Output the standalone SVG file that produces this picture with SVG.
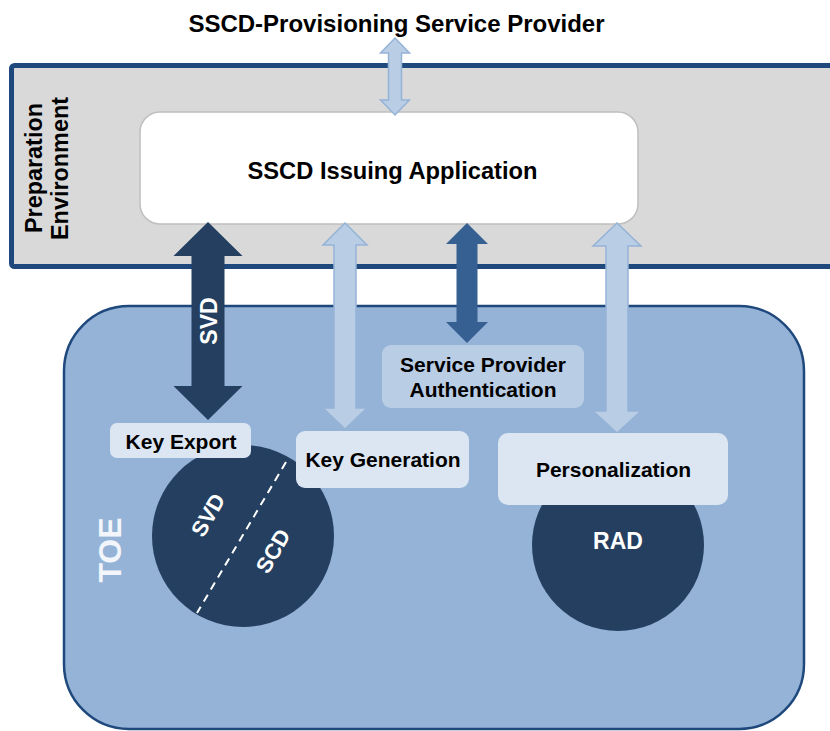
<svg xmlns="http://www.w3.org/2000/svg" width="830" height="731" viewBox="0 0 830 731">
<style>
  text { font-family: "Liberation Sans", Arial, sans-serif; font-weight: bold; }
  .blk { fill: #000000; }
  .wht { fill: #FFFFFF; }
  .lbl { font-size: 21px; text-anchor: middle; }
  .lightbox { fill: #DCE6F2; }
  .midbox { fill: #B9CDE5; }
  .dark { fill: #243F60; }
  .lightarrow { fill: #B9CDE5; stroke: #95B3D7; stroke-width: 1.5; }
  .midarrow { fill: #366092; }
</style>
<rect width="830" height="731" fill="#FFFFFF"/>

<g id="preparation-environment">
  <rect x="11.5" y="65.5" width="830" height="201" rx="3" fill="#D9D9D9" stroke="#1F497D" stroke-width="5"/>
  <text class="blk" font-size="23.4" text-anchor="middle" transform="translate(41.5,168) rotate(-90)">Preparation</text>
  <text class="blk" font-size="23.4" text-anchor="middle" transform="translate(68,168.5) rotate(-90)">Environment</text>
</g>

<g id="title">
  <text class="blk" x="396.5" y="32" font-size="24" text-anchor="middle">SSCD-Provisioning Service Provider</text>
</g>

<g id="issuing-application">
  <rect x="140" y="112" width="498" height="112" rx="20" fill="#FFFFFF" stroke="#BFBFBF" stroke-width="1.5"/>
  <text class="blk" x="392.5" y="178.5" font-size="23.7" text-anchor="middle">SSCD Issuing Application</text>
</g>

<g id="toe">
  <rect x="64" y="306" width="740" height="423" rx="65" fill="#95B3D7" stroke="#1F497D" stroke-width="2.5"/>
  <text fill="#F2F6FB" font-size="32" text-anchor="middle" transform="translate(121,550) rotate(-90)">TOE</text>
</g>

<g id="connectors">
  <polygon class="lightarrow" points="395,38 409.5,53 401.5,53 401.5,100 409.5,100 395,115 380.5,100 388.5,100 388.5,53 380.5,53"/>
  <polygon class="dark" points="208,222 242.5,256 224.5,256 224.5,386 242.5,386 208,420 173.5,386 191.5,386 191.5,256 173.5,256"/>
  <polygon class="lightarrow" points="345,223 367,245 356,245 356,408 367,408 345,429 323,408 334,408 334,245 323,245"/>
  <polygon class="midarrow" points="467,223 488,244 477.5,244 477.5,322 488,322 467,343 446,322 456.5,322 456.5,244 446,244"/>
  <polygon class="lightarrow" points="617,223 641,246 628,246 628,411 641,411 617,433 593,411 606,411 606,246 593,246"/>
  <text class="wht" font-size="23" text-anchor="middle" transform="translate(217,321) rotate(-90)">SVD</text>
</g>

<g id="svd-scd-circle">
  <circle class="dark" cx="243" cy="536" r="91"/>
  <line x1="286" y1="462" x2="197" y2="613" stroke="#FFFFFF" stroke-width="2" stroke-dasharray="8,6"/>
  <text class="wht" font-size="22" text-anchor="middle" dy="0.35em" transform="translate(208,515) rotate(-60)">SVD</text>
  <text class="wht" font-size="22" text-anchor="middle" dy="0.35em" transform="translate(273,551) rotate(-60)">SCD</text>
</g>

<g id="rad-circle">
  <circle class="dark" cx="618" cy="545" r="86"/>
  <text class="wht" x="618" y="549" font-size="23" text-anchor="middle">RAD</text>
</g>

<g id="key-export">
  <rect class="lightbox" x="110" y="423" width="141" height="35" rx="7"/>
  <text class="blk lbl" x="181" y="449">Key Export</text>
</g>

<g id="key-generation">
  <rect class="lightbox" x="296" y="431" width="173" height="57" rx="9"/>
  <text class="blk lbl" x="383" y="467">Key Generation</text>
</g>

<g id="service-provider-authentication">
  <rect class="midbox" x="382" y="345" width="202" height="63" rx="9"/>
  <text class="blk lbl" x="483" y="372">Service Provider</text>
  <text class="blk lbl" x="483" y="397">Authentication</text>
</g>

<g id="personalization">
  <rect class="lightbox" x="498" y="433" width="230" height="72" rx="10"/>
  <text class="blk lbl" x="613.5" y="477">Personalization</text>
</g>
</svg>
